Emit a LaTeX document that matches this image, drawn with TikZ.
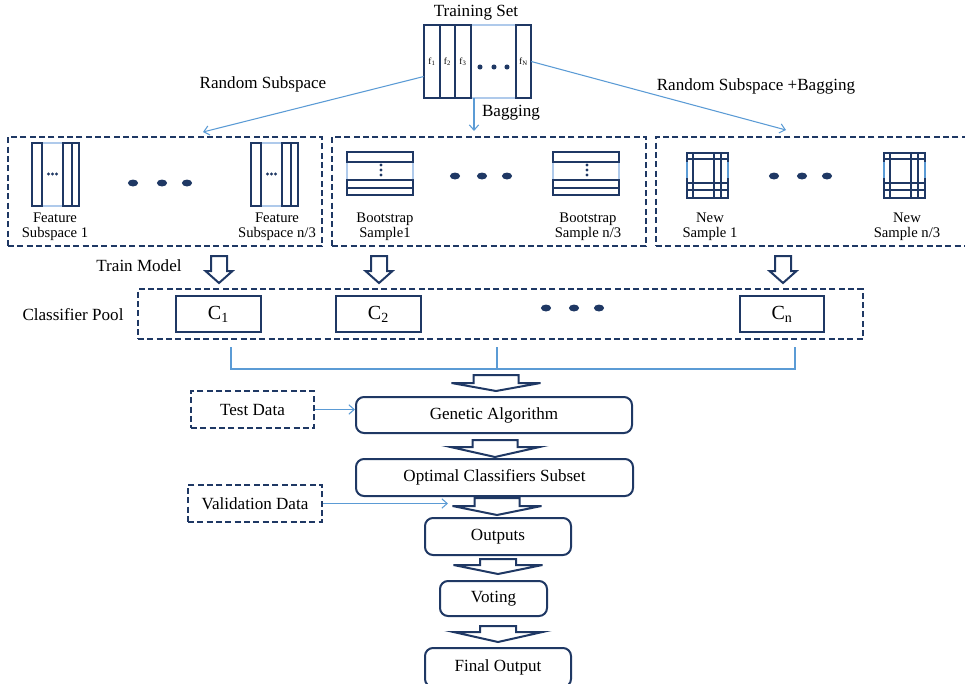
\documentclass[tikz,border=0pt]{standalone}
\usepackage{fontspec}
\setmainfont{Liberation Serif}
\usetikzlibrary{fit,calc,arrows.meta}
\definecolor{navy}{RGB}{31,56,100}
\definecolor{lblue}{RGB}{91,155,213}
\definecolor{pale}{RGB}{175,202,235}
\newcommand\hollowarrow[6]{%
 \draw[harrow] (#1-#5,#2) -- (#1+#5,#2) -- (#1+#5,#3) -- (#1+#6,#3) -- (#1,#4) -- (#1-#6,#3) -- (#1-#5,#3) -- cycle;}
\newcommand\featicon[1]{%
 \draw[paleln] (#1+10,143) -- (#1+31,143) (#1+10,206) -- (#1+31,206);
 \draw[col] (#1,143) rectangle (#1+10,206) (#1+31,143) rectangle (#1+40,206) (#1+40,143) rectangle (#1+47,206);
 \foreach \d in {16.5,20.5,24.5} \fill[navy] (#1+\d,174) circle (1.3pt);}
\newcommand\booticon[1]{%
 \draw[paleln] (#1,162) -- (#1,180) (#1+66,162) -- (#1+66,180);
 \draw[col] (#1,152) rectangle (#1+66,162) (#1,180) rectangle (#1+66,188) (#1,188) rectangle (#1+66,195);
 \foreach \d in {165,170,175} \fill[navy] (#1+34,\d) circle (1.3pt);}
\newcommand\newicon[1]{%
 \draw[col] (#1,153) rectangle (#1+41,198);
 \draw[col] (#1+6,153) -- (#1+6,198) (#1+27,153) -- (#1+27,198) (#1+34,153) -- (#1+34,198)
   (#1,159) -- (#1+41,159) (#1,183) -- (#1+41,183) (#1,190) -- (#1+41,190);
 \draw[lblue, line width=1.3pt] (#1,162) -- (#1,178) (#1+41,162) -- (#1+41,178);}
\begin{document}
\begin{tikzpicture}[x=0.75pt,y=-0.75pt,
  box/.style={draw=navy, line width=1.5pt, fill=white},
  rbox/.style={box, rounded corners=6pt},
  dbox/.style={draw=navy, line width=1.5pt, dash pattern=on 4.5pt off 2.5pt},
  lbl/.style={font=\fontsize{12.8}{15}\selectfont},
  sm/.style={font=\fontsize{11}{11}\selectfont, align=center},
  tinyf/.style={font=\fontsize{7}{7}\selectfont, inner sep=0},
  cfont/.style={font=\fontsize{15}{17}\selectfont},
  conn/.style={draw=lblue, line width=0.8pt, -{Straight Barb[length=4pt,width=7pt]}},
  lline/.style={draw=lblue, line width=0.8pt},
  harrow/.style={draw=navy, line width=1.5pt, fill=white, line join=miter},
  col/.style={draw=navy, line width=1.4pt},
  paleln/.style={draw=pale, line width=1.1pt},
  fitn/.style={inner sep=0},
  txt/.style={label={[lbl]center:#1}},
  ctxt/.style={label={[cfont]center:#1}}]
\useasboundingbox (0,0) rectangle (965,683);

% ---- training set
\node[lbl] (tstitle) at (476,13) {Training Set};
\node[fitn, fit={(424,25) (531,98)}] (ts) {};
\draw[paleln] (471,25) -- (516,25) (471,98) -- (516,98);
\draw[col] (424,25) rectangle (440,98) (440,25) rectangle (455,98) (455,25) rectangle (471,98) (516,25) rectangle (531,98);
\node[tinyf] (f1) at (432,62) {f\textsubscript{1}};
\node[tinyf] (f2) at (447.5,62) {f\textsubscript{2}};
\node[tinyf] (f3) at (463,62) {f\textsubscript{3}};
\node[tinyf] (fN) at (523.5,62) {f\textsubscript{N}};
\foreach \d in {480,494,507} \fill[navy] (\d,67) circle (1.9pt);

% ---- method labels
\node[lbl] (lrs) at (263,84) {Random Subspace};
\node[lbl] (lbag) at (511,113) {Bagging};
\node[lbl] (lrsb) at (756,86) {Random Subspace +Bagging};

% ---- three dashed groups
\node[dbox, fitn, fit={(8,137) (322,246)}] (lbox) {};
\node[dbox, fitn, fit={(332,137) (646,246)}] (mbox) {};
\node[dbox, fitn, fit={(656,137) (972,246)}] (rbox) {};

\coordinate (rsEnd) at (203,132);
\coordinate (bagEnd) at (474,131);
\coordinate (rsbEnd) at (786,130);
\draw[conn] ($(ts.west)+(0,15)$) -- (rsEnd);
\draw[conn] (ts.south -| bagEnd) -- (bagEnd);
\draw[conn] (ts.east) -- (rsbEnd);

\featicon{32}
\featicon{251}
\booticon{347}
\booticon{553}
\newicon{687}
\newicon{884}
\foreach \p in {133,162,187} \fill[navy] (\p,183) ellipse [x radius=3.8pt, y radius=2.6pt];
\foreach \p in {455,482,507} \fill[navy] (\p,176) ellipse [x radius=3.8pt, y radius=2.6pt];
\foreach \p in {774,802,827} \fill[navy] (\p,176) ellipse [x radius=3.8pt, y radius=2.6pt];

\node[sm] (t1) at (55,227) {Feature\\Subspace 1};
\node[sm] (t2) at (277,227) {Feature\\Subspace n/3};
\node[sm] (t3) at (385,227) {Bootstrap\\Sample1};
\node[sm] (t4) at (588,227) {Bootstrap\\Sample n/3};
\node[sm] (t5) at (710,227) {New\\Sample 1};
\node[sm] (t6) at (907,227) {New\\Sample n/3};

% ---- train model
\node[lbl] (ltm) at (139,266) {Train Model};
\hollowarrow{219}{256}{271}{283}{8}{13.5}
\hollowarrow{379}{256}{271}{283}{8}{13.5}
\hollowarrow{783}{256}{271}{283}{8}{13.5}

% ---- classifier pool
\node[lbl] (lcp) at (73,315) {Classifier Pool};
\node[dbox, fitn, fit={(138,289) (863,339)}] (pool) {};
\node[box, fitn, fit={(176,296) (261,332)}, ctxt={C\textsubscript{1}}] (c1) {};
\node[box, fitn, fit={(336,296) (421,332)}, ctxt={C\textsubscript{2}}] (c2) {};
\node[box, fitn, fit={(740,296) (824,332)}, ctxt={C\textsubscript{n}}] (cn) {};
\foreach \p in {546,574,599} \fill[navy] (\p,308) ellipse [x radius=3.8pt, y radius=2.6pt];

\coordinate (b1) at (231,347);
\coordinate (b2) at (497,347);
\coordinate (b3) at (795,347);
\draw[lline] (b1) -- ++(0,22) -| (b3);
\draw[lline] (b2) -- ++(0,22);
\hollowarrow{496}{375}{383}{391}{22.5}{44.5}

% ---- pipeline
\node[rbox, fitn, fit={(356,397) (632,433)}, txt={Genetic Algorithm}] (ga) {};
\hollowarrow{495}{440}{447}{457}{22.5}{44.5}
\node[rbox, fitn, fit={(356,459) (633,496)}, txt={Optimal Classifiers Subset}] (ocs) {};
\hollowarrow{497}{498}{506}{515}{22.5}{44.5}
\node[rbox, fitn, fit={(425,518) (571,555)}, txt={Outputs}] (out) {};
\hollowarrow{498}{559}{565}{574}{18}{44.5}
\node[rbox, fitn, fit={(440,581) (547,616)}, txt={Voting}] (vote) {};
\hollowarrow{498}{626}{632}{642}{18}{44.5}
\node[rbox, fitn, fit={(425,648) (571,687)}, txt={Final Output}] (final) {};

\node[dbox, fitn, fit={(191,391) (314,428)}, txt={Test Data}] (test) {};
\draw[conn] (test.east) -- (test.east -| ga.west);
\node[dbox, fitn, fit={(188,485) (322,522)}, txt={Validation Data}] (valid) {};
\coordinate (vEnd) at (448,504);
\draw[conn] (valid.east) -- (valid.east -| vEnd);
\end{tikzpicture}
\end{document}
